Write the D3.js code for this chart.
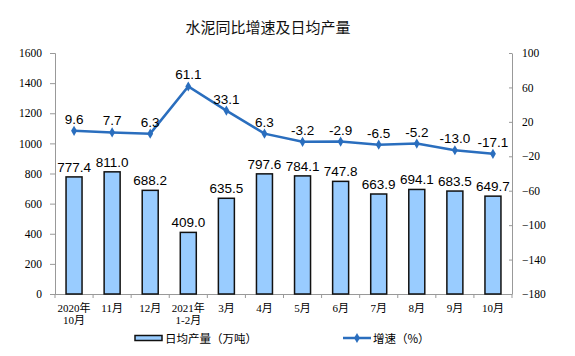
<!DOCTYPE html>
<html><head><meta charset="utf-8">
<script src="https://cdn.jsdelivr.net/npm/d3@7"></script>
<style>body{margin:0;background:#fff}</style>
</head><body>
<script>
const categories = [["2020年","10月"],["11月"],["12月"],["2021年","1-2月"],["3月"],["4月"],["5月"],["6月"],["7月"],["8月"],["9月"],["10月"]];
const output = [777.4,811.0,688.2,409.0,635.5,797.6,784.1,747.8,663.9,694.1,683.5,649.7];
const growth = [9.6,7.7,6.3,61.1,33.1,6.3,-3.2,-2.9,-6.5,-5.2,-13.0,-17.1];
const leftTicks = [0,200,400,600,800,1000,1200,1400,1600];
const rightTicks = [-180,-140,-100,-60,-20,20,60,100];
const title = "水泥同比增速及日均产量";
const legendBar = "日均产量（万吨）";
const legendLine = "增速（%）";

const W=575,H=356;
const svg=d3.select("body").append("svg").attr("width",W).attr("height",H);
const serif='"Times New Roman","Liberation Serif","Noto Sans CJK SC",serif';
const sans='Arial,"Liberation Sans","Noto Sans CJK SC",sans-serif';
const cjk='"Noto Sans CJK SC",sans-serif';
const lineColor="#2a6ebe";

const x=d3.scaleBand().domain(d3.range(categories.length)).range([55,512]);
const yL=d3.scaleLinear().domain([0,1600]).range([294,53]);
const yR=d3.scaleLinear().domain([-180,100]).range([294,53]);

svg.append("text").attr("x",268).attr("y",33).attr("text-anchor","middle")
 .attr("font-family",cjk).attr("font-size",15).attr("fill","#111").text(title);

// left axis
const gL=svg.append("g").attr("transform","translate(55,0)")
 .call(d3.axisLeft(yL).tickValues(leftTicks).tickSize(5).tickPadding(8).tickFormat(d3.format("d")));
gL.selectAll("path,line").attr("stroke","#999");
gL.selectAll("text").attr("font-family",serif).attr("font-size",11.5).attr("fill","#000");

// right axis
const gR=svg.append("g").attr("transform","translate(512,0)")
 .call(d3.axisRight(yR).tickValues(rightTicks).tickSize(0).tickPadding(10).tickFormat(d3.format("d")));
gR.selectAll("path").attr("stroke","#999");
gR.selectAll("text").attr("font-family",serif).attr("font-size",11.5).attr("fill","#000");
gR.selectAll(".tick").append("line").attr("x1",-3).attr("x2",0).attr("stroke","#999");

// bottom axis
svg.append("line").attr("x1",55).attr("x2",512).attr("y1",294.5).attr("y2",294.5).attr("stroke","#999");
svg.selectAll(".xt").data(d3.range(categories.length+1)).enter().append("line")
 .attr("x1",i=>55+i*x.step()).attr("x2",i=>55+i*x.step()).attr("y1",294).attr("y2",298).attr("stroke","#999");
const xl=svg.selectAll(".xl").data(categories).enter().append("text")
 .attr("text-anchor","middle").attr("font-family",serif).attr("font-size",11).attr("fill","#000")
 .attr("transform",(d,i)=>`translate(${x(i)+x.bandwidth()/2},312)`);
xl.selectAll("tspan").data(d=>d).enter().append("tspan").attr("x",0).attr("dy",(d,j)=>j?12:0).text(d=>d);

// bars
const bw=16;
svg.selectAll(".bar").data(output).enter().append("rect")
 .attr("x",(d,i)=>x(i)+x.bandwidth()/2-bw/2).attr("width",bw)
 .attr("y",d=>yL(d)).attr("height",d=>yL(0)-yL(d))
 .attr("fill","#99ccff").attr("stroke","#111").attr("stroke-width",1.5);
svg.selectAll(".bl").data(output).enter().append("text")
 .attr("x",(d,i)=>x(i)+x.bandwidth()/2).attr("y",d=>yL(d)-5)
 .attr("text-anchor","middle").attr("font-family",sans).attr("font-size",13.5).attr("fill","#000")
 .text(d=>d.toFixed(1));

// line
const line=d3.line().x((d,i)=>x(i)+x.bandwidth()/2).y(d=>yR(d));
svg.append("path").datum(growth).attr("d",line).attr("fill","none").attr("stroke",lineColor).attr("stroke-width",2.5);
const diamond=d3.symbol().type(d3.symbolDiamond).size(30);
svg.selectAll(".pt").data(growth).enter().append("path").attr("d",diamond)
 .attr("transform",(d,i)=>`translate(${x(i)+x.bandwidth()/2},${yR(d)})`).attr("fill",lineColor);
svg.selectAll(".ll").data(growth).enter().append("text")
 .attr("x",(d,i)=>x(i)+x.bandwidth()/2).attr("y",d=>yR(d)-7)
 .attr("text-anchor","middle").attr("font-family",sans).attr("font-size",13.5).attr("fill","#000")
 .text(d=>d.toFixed(1));

// legend
svg.append("rect").attr("x",135).attr("y",335.5).attr("width",27).attr("height",5)
 .attr("fill","#99ccff").attr("stroke","#111").attr("stroke-width",1.5);
svg.append("text").attr("x",165).attr("y",342.5).attr("font-family",cjk).attr("font-size",11.5).attr("fill","#000").text(legendBar);
svg.append("line").attr("x1",343).attr("x2",371).attr("y1",338).attr("y2",338).attr("stroke",lineColor).attr("stroke-width",2.5);
svg.append("path").attr("d",diamond).attr("transform","translate(357,338)").attr("fill",lineColor);
svg.append("text").attr("x",373).attr("y",342.5).attr("font-family",cjk).attr("font-size",11.5).attr("fill","#000").text(legendLine);
</script>
</body></html>
